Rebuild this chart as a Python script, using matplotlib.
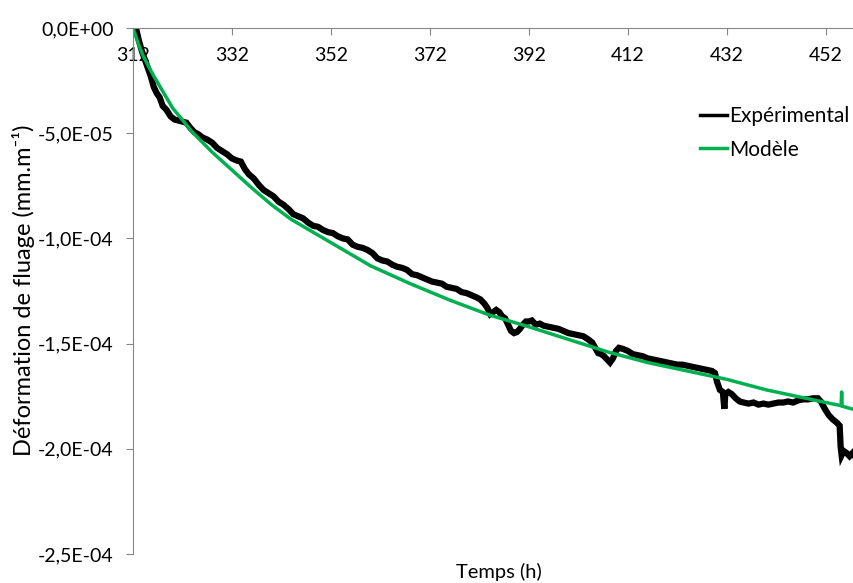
import matplotlib
matplotlib.use("Agg")
import matplotlib.pyplot as plt
from matplotlib.ticker import FuncFormatter, MultipleLocator

plt.rcParams['font.family'] = ['Lato', 'DejaVu Sans']
plt.rcParams['font.size'] = 14

# temps (h) et deformation (x1e-5 mm.m-1)
t_exp = [312.6, 313.2, 313.8, 314.4, 315.0, 315.6, 316.2, 316.8, 317.4, 318.0,
         318.8, 319.6, 320.4, 321.2, 322.0, 322.8, 323.6, 324.4, 325.2, 326.0,
         327.0, 328.0, 329.0, 330.0, 331.0, 332.0, 333.0, 333.8, 334.6, 335.4,
         336.4, 337.4, 338.4, 339.4, 340.4, 341.4, 342.4, 343.4, 344.4, 345.4,
         346.4, 347.4, 348.4, 349.4, 350.4, 351.4, 352.4, 353.4, 354.4, 355.4,
         356.4, 357.4, 358.4, 359.4, 360.4, 361.4, 362.4, 363.4, 364.4, 365.4,
         366.4, 367.4, 368.4, 369.4, 370.4, 371.4, 372.4, 373.4, 374.4, 375.4,
         376.4, 377.4, 378.4, 379.4, 380.4, 381.4, 382.2, 383.0, 383.6, 384.2,
         384.8, 385.4, 386.0, 386.6, 387.2, 387.8, 388.4, 389.0, 389.6, 390.2,
         390.8, 391.4, 392.0, 392.6, 393.4, 394.2, 395.0, 396.0, 397.0, 398.0,
         399.0, 400.0, 401.0, 402.0, 403.0, 404.0, 404.8, 405.4, 406.0, 406.6,
         407.2, 407.8, 408.4, 409.0, 409.6, 410.2, 411.0, 412.0, 413.0, 414.0,
         415.0, 416.0, 417.0, 418.0, 419.0, 420.0, 421.0, 422.0, 423.0, 424.0,
         425.0, 426.0, 427.0, 428.0, 429.0, 429.6, 430.0, 430.6, 431.2, 431.5,
         431.7, 432.3, 433.0, 433.8, 434.6, 435.4, 436.4, 437.4, 438.4, 439.4,
         440.4, 441.4, 442.4, 443.4, 444.4, 445.4, 446.4, 447.4, 448.4, 449.4,
         450.4, 451.0, 451.8, 452.6, 453.4, 454.2, 454.8, 455.0, 455.2, 455.6,
         456.2, 456.8, 457.4, 458.0]
e_exp = [0.0, -0.6, -1.1, -1.5, -1.9, -2.3, -2.8, -3.1, -3.3, -3.7,
         -3.9, -4.2, -4.35, -4.4, -4.45, -4.5, -4.75, -4.95, -5.05, -5.2,
         -5.3, -5.45, -5.7, -5.85, -6.0, -6.2, -6.3, -6.35, -6.7, -6.95,
         -7.15, -7.45, -7.7, -7.85, -8.0, -8.25, -8.4, -8.6, -8.85, -8.95,
         -9.05, -9.25, -9.4, -9.45, -9.6, -9.7, -9.75, -9.9, -10.0, -10.05,
         -10.3, -10.4, -10.45, -10.55, -10.7, -10.95, -11.05, -11.1, -11.25, -11.35,
         -11.4, -11.5, -11.7, -11.75, -11.85, -11.95, -12.05, -12.1, -12.15, -12.3,
         -12.35, -12.4, -12.55, -12.6, -12.7, -12.8, -12.9, -13.1, -13.3, -13.6,
         -13.5, -13.4, -13.5, -13.7, -13.8, -14.1, -14.4, -14.5, -14.45, -14.3,
         -14.1, -13.95, -13.95, -13.9, -14.1, -14.05, -14.15, -14.2, -14.25, -14.3,
         -14.4, -14.5, -14.55, -14.6, -14.65, -14.8, -14.95, -15.2, -15.45, -15.5,
         -15.6, -15.75, -15.9, -15.7, -15.35, -15.2, -15.25, -15.35, -15.5, -15.55,
         -15.6, -15.7, -15.75, -15.8, -15.85, -15.9, -15.95, -16.0, -16.0, -16.05,
         -16.1, -16.15, -16.2, -16.25, -16.3, -16.4, -16.8, -17.2, -17.3, -18.1,
         -17.4, -17.3, -17.4, -17.6, -17.75, -17.8, -17.85, -17.8, -17.9, -17.85,
         -17.9, -17.85, -17.8, -17.8, -17.75, -17.8, -17.7, -17.65, -17.65, -17.6,
         -17.6, -17.75, -18.1, -18.4, -18.6, -18.75, -18.9, -19.9, -20.3, -20.1,
         -20.2, -20.35, -20.2, -20.4]

t_mod = [312, 313, 314, 316, 318, 320, 324, 328, 332, 336, 340, 344, 352, 360,
         368, 376, 384, 392, 400, 408, 416, 424, 432, 440, 448, 455.1, 455.2,
         455.3, 456, 458]
e_mod = [0.0, -0.7, -1.3, -2.2, -3.0, -3.8, -4.95, -5.9, -6.75, -7.6, -8.4,
         -9.1, -10.2, -11.3, -12.15, -12.93, -13.64, -14.2, -14.8, -15.4, -15.9,
         -16.3, -16.7, -17.2, -17.6, -17.95, -17.3, -17.97, -18.02, -18.15]

x_ticks = [312, 332, 352, 372, 392, 412, 432, 452]

gris = '#868686'

fig = plt.figure(figsize=(8.54, 5.83), dpi=100)
ax = fig.add_axes([0.1557, 0.0497, 0.8443, 0.9023])

ax.plot(t_exp, [v * 1e-5 for v in e_exp], color='black', lw=4.5,
        solid_joinstyle='miter', label='Expérimental')
ax.plot(t_mod, [v * 1e-5 for v in e_mod], color='#00B050', lw=2.5,
        label='Modèle')

ax.set_xlim(312, 457.7)
ax.set_ylim(-2.5e-4, 0)
ax.set_xticks(x_ticks)
ax.yaxis.set_major_locator(MultipleLocator(5e-5))
ax.yaxis.set_major_formatter(FuncFormatter(lambda v, p: f"{v:.1E}".replace('.', ',')))

ax.spines['top'].set_visible(False)
ax.spines['right'].set_visible(False)
ax.spines['bottom'].set_position(('data', 0))
for s in ('bottom', 'left'):
    ax.spines[s].set_color(gris)
ax.tick_params(axis='both', colors=gris, labelcolor='black', length=5,
               direction='out', labelsize=14)
ax.tick_params(axis='x', pad=9)
ax.tick_params(axis='y', pad=9)

fig.text(0.584, 0.019, 'Temps (h)', ha='center', va='center', fontsize=14.5)
fig.text(0.027, 0.502, 'Déformation de fluage (mm.m⁻¹)', ha='center', va='center',
         rotation=90, fontsize=17)

ax.legend(loc='upper left', bbox_to_anchor=(0.8197, 0.818), bbox_transform=fig.transFigure,
          frameon=False, handlelength=1.3, handletextpad=0.08, labelspacing=0.65,
          borderpad=0, borderaxespad=0, fontsize=15)
for h in ax.get_legend().get_lines():
    h.set_linewidth(2.5)

fig.savefig('out.png', dpi=100)
